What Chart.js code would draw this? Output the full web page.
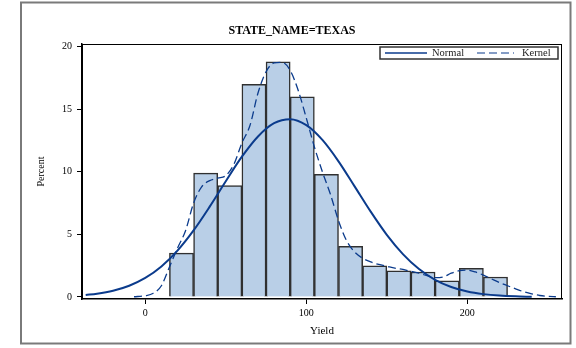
<!DOCTYPE html>
<html>
<head>
<meta charset="utf-8">
<script src="https://cdn.jsdelivr.net/npm/chart.js@4/dist/chart.umd.min.js"></script>
<style>
  html, body { margin: 0; padding: 0; background: #ffffff; }
  #wrap { width: 576px; height: 348px; }
</style>
</head>
<body>
<div id="wrap"><canvas id="c" width="576" height="348"></canvas></div>
<script>
// Histogram of Yield (bin width 15), percent of counties per bin
const binMids = [22.5, 37.5, 52.5, 67.5, 82.5, 97.5, 112.5, 127.5, 142.5, 157.5, 172.5, 187.5, 202.5, 217.5];
const percents = [3.5, 9.9, 8.9, 17.0, 18.8, 16.0, 9.8, 4.05, 2.5, 2.1, 2.0, 1.3, 2.3, 1.6];

// Fitted normal density curve (percent scale)
const normalX = [-37, -30, -20, -10, 0, 10, 20, 30, 40, 50, 60, 70, 80, 90, 100, 110, 120, 130, 140, 150, 160, 170, 180, 190, 200, 210, 220, 230, 240];
const normalY = [0.16, 0.26, 0.50, 0.90, 1.52, 2.44, 3.71, 5.32, 7.22, 9.25, 11.21, 12.83, 13.89, 14.21, 13.73, 12.55, 10.84, 8.84, 6.82, 4.97, 3.43, 2.23, 1.37, 0.80, 0.44, 0.23, 0.11, 0.05, 0.02];

// Kernel density estimate (percent scale)
const kernelX = [-7, 0, 5, 10, 15, 20, 25, 30, 35, 40, 45, 50, 55, 60, 65, 70, 75, 80, 85, 90, 95, 100, 105, 110, 115, 120, 125, 130, 135, 140, 145, 150, 155, 160, 165, 170, 175, 180, 185, 190, 195, 200, 205, 210, 215, 220, 225, 230, 235, 240, 245, 250, 255];
const kernelY = [0.02, 0.1, 0.3, 0.9, 2.4, 3.9, 5.3, 7.5, 8.8, 9.3, 9.5, 9.7, 10.6, 12.3, 13.7, 16.3, 18.0, 18.7, 18.75, 18.1, 16.5, 14.3, 12.0, 10.0, 8.2, 6.1, 4.5, 3.6, 3.1, 2.8, 2.6, 2.45, 2.3, 2.2, 2.05, 1.9, 1.7, 1.55, 1.6, 1.9, 2.1, 2.15, 2.0, 1.75, 1.45, 1.15, 0.9, 0.65, 0.42, 0.25, 0.12, 0.05, 0.02];

// Axis ticks
const xTicks = [0, 100, 200];
const yTicks = [0, 5, 10, 15, 20];

const titleText = 'STATE_NAME=TEXAS';
const xTitle = 'Yield';
const yTitle = 'Percent';
const normalLabel = 'Normal';
const kernelLabel = 'Kernel';

const FILL = '#b9cfe7';
const EDGE = '#303030';
const CURVE = '#0b3b8c';
const SERIF = '"Liberation Serif", "Times New Roman", serif';

const toPoints = (xs, ys) => xs.map((x, i) => ({ x: x, y: ys[i] }));

// Outer figure frame, plot frame and the inset legend
const decor = {
  id: 'decor',
  afterDraw(chart) {
    const ctx = chart.ctx;
    const a = chart.chartArea;
    ctx.save();
    // figure frame
    ctx.strokeStyle = '#7a7a7a';
    ctx.lineWidth = 2;
    ctx.strokeRect(21, 2.5, 549.5, 341);
    // plot frame
    ctx.strokeStyle = '#000';
    ctx.lineWidth = 1;
    ctx.strokeRect(a.left + 0.5, a.top + 0.5, a.right - a.left - 1, a.bottom - a.top - 1);

    // legend box
    const bx = a.right - 182, by = a.top + 3, bw = 178, bh = 12;
    ctx.fillStyle = '#fff';
    ctx.fillRect(bx, by, bw, bh);
    ctx.strokeStyle = '#333';
    ctx.lineWidth = 1.5;
    ctx.strokeRect(bx, by, bw, bh);
    const cy = by + bh / 2;
    ctx.strokeStyle = CURVE;
    ctx.lineWidth = 1.5;
    ctx.beginPath();
    ctx.moveTo(bx + 5, cy); ctx.lineTo(bx + 47, cy);
    ctx.stroke();
    ctx.setLineDash([8, 4]);
    ctx.lineWidth = 1.2;
    ctx.beginPath();
    ctx.moveTo(bx + 97, cy); ctx.lineTo(bx + 134, cy);
    ctx.stroke();
    ctx.setLineDash([]);
    ctx.fillStyle = '#222';
    ctx.font = '10.5px ' + SERIF;
    ctx.textBaseline = 'middle';
    ctx.textAlign = 'left';
    ctx.fillText(normalLabel, bx + 52, cy + 0.5);
    ctx.fillText(kernelLabel, bx + 142, cy + 0.5);
    ctx.restore();
  }
};

new Chart(document.getElementById('c'), {
  type: 'bar',
  data: {
    datasets: [
      {
        type: 'bar',
        label: 'Percent',
        data: toPoints(binMids, percents),
        backgroundColor: FILL,
        borderColor: EDGE,
        borderWidth: 1.5,
        barPercentage: 1.0,
        categoryPercentage: 1.0,
        grouped: false,
        order: 3
      },
      {
        type: 'line',
        label: normalLabel,
        data: toPoints(normalX, normalY),
        borderColor: CURVE,
        borderWidth: 2,
        pointRadius: 0,
        fill: false,
        cubicInterpolationMode: 'monotone',
        order: 1
      },
      {
        type: 'line',
        label: kernelLabel,
        data: toPoints(kernelX, kernelY),
        borderColor: CURVE,
        borderWidth: 1.3,
        borderDash: [8, 4],
        pointRadius: 0,
        fill: false,
        cubicInterpolationMode: 'monotone',
        order: 2
      }
    ]
  },
  options: {
    responsive: false,
    animation: false,
    events: [],
    layout: { padding: { left: 22, right: 14, top: 20, bottom: 9 } },
    plugins: {
      legend: { display: false },
      tooltip: { enabled: false },
      title: {
        display: true,
        text: titleText,
        color: '#000',
        font: { family: SERIF, size: 12, weight: 'bold' },
        padding: { top: 3.5, bottom: 6.1 }
      }
    },
    scales: {
      x: {
        type: 'linear',
        min: -39.3,
        max: 258.8,
        offset: false,
        afterFit(s) { s.height = 40; },
        afterBuildTicks(s) { s.ticks = xTicks.map(v => ({ value: v })); },
        ticks: { color: '#000', font: { family: SERIF, size: 10 }, padding: 3, maxRotation: 0 },
        grid: { offset: false, drawOnChartArea: false, tickLength: 5, color: '#000', lineWidth: 1 },
        border: { display: true, color: '#000', width: 1.5 },
        title: { display: true, text: xTitle, color: '#000', font: { family: SERIF, size: 11 }, padding: { top: 0, bottom: 1.7 } }
      },
      y: {
        type: 'linear',
        min: -0.16,
        max: 20.216,
        afterFit(s) { s.width = 60; },
        afterBuildTicks(s) { s.ticks = yTicks.map(v => ({ value: v })); },
        ticks: { color: '#000', font: { family: SERIF, size: 10 }, padding: 5 },
        grid: { offset: false, drawOnChartArea: false, tickLength: 5, color: '#000', lineWidth: 1 },
        border: { display: true, color: '#000', width: 1.5 },
        title: { display: true, text: yTitle, color: '#000', font: { family: SERIF, size: 10 }, padding: { top: 13.7, bottom: 0 } }
      }
    }
  },
  plugins: [decor]
});
</script>
</body>
</html>
